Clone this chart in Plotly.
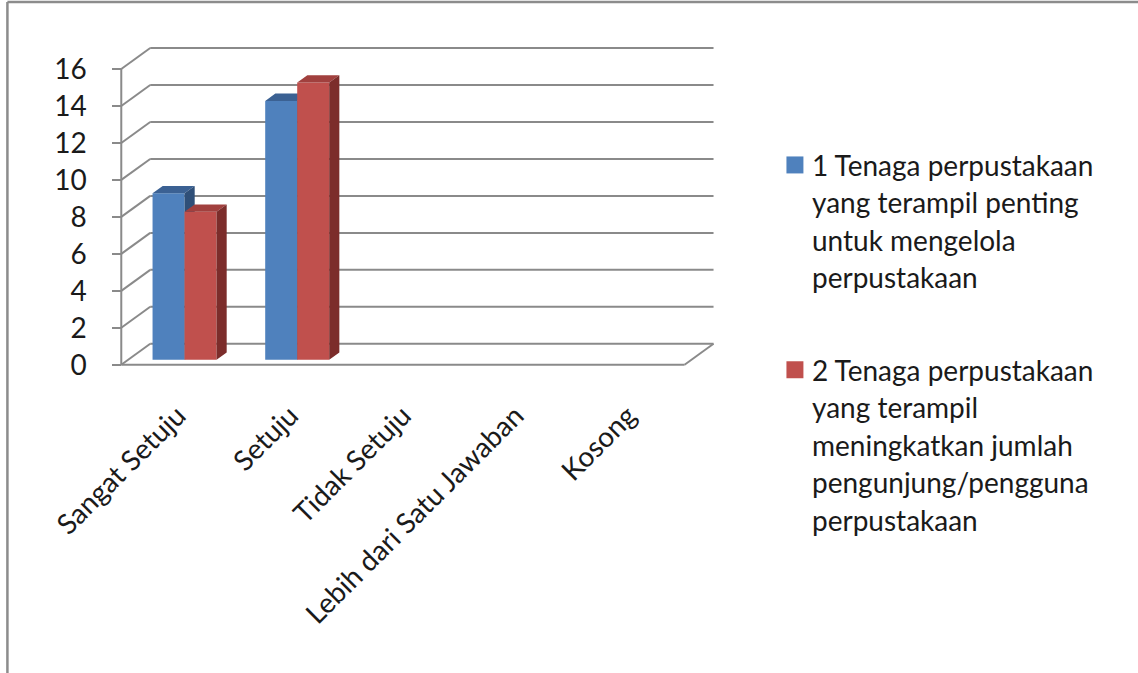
import plotly.graph_objects as go

# ---- data -------------------------------------------------------------
categories = ["Sangat Setuju", "Setuju", "Tidak Setuju",
              "Lebih dari Satu Jawaban", "Kosong"]
series_1 = [9, 14, 0, 0, 0]
series_2 = [8, 15, 0, 0, 0]
series_1_label = ["1 Tenaga perpustakaan", "yang terampil penting",
                  "untuk mengelola", "perpustakaan"]
series_2_label = ["2 Tenaga perpustakaan", "yang terampil",
                  "meningkatkan jumlah", "pengunjung/pengguna",
                  "perpustakaan"]
y_ticks = [0, 2, 4, 6, 8, 10, 12, 14, 16]

# ---- page / scale setup ------------------------------------------------
W, H = 1138, 673
X0_PX, Y0_PX = 121, 365          # pixel position of the data origin
SX, SY = 112.8, 18.5             # pixels per category / per value unit
XMIN, XMAX = -0.1, 5.35
YMIN, YMAX = -0.5, 17.3

left = X0_PX + XMIN * SX
right = X0_PX + XMAX * SX
bottom = Y0_PX - YMIN * SY
top = Y0_PX - YMAX * SY
PW, PH = right - left, bottom - top


def px_x(px):
    return (px - left) / PW


def px_y(py):
    return (bottom - py) / PH


# oblique depth of the 3-D box (data units)
DX, DY = 29 / SX, 21 / SY
BAR_W = 0.284          # width of one column (category units)
F0 = 0.24              # depth fraction where column fronts sit
FD = 0.35              # column depth as fraction of the box depth

GRID = "#8a8a8a"
FONT = "Lato"
FSIZE = 28
TXT = "#1a1a1a"

n = len(categories)
fig = go.Figure()

# ---- walls, floor and gridlines ----------------------------------------
gx, gy = [], []
for t in y_ticks:
    gx += [DX, n + DX, None, 0, DX, None]
    gy += [t + DY, t + DY, None, t, t + DY, None]
gx += [0, 0, None, 0, n, None, n, n + DX, None]
gy += [0, max(y_ticks), None, 0, 0, None, 0, DY, None]
fig.add_trace(go.Scatter(x=gx, y=gy, mode="lines",
                         line=dict(color=GRID, width=2),
                         hoverinfo="skip", showlegend=False))

# ---- 3-D columns ------------------------------------------------------
series = [
    (series_1, ("#4f81bd", "#3b6193", "#2f4f78")),
    (series_2, ("#c0504d", "#a1403e", "#7c2d2b")),
]
bx0, by0 = F0 * DX, F0 * DY
ddx, ddy = FD * DX, FD * DY
for s, (vals, (c_front, c_top, c_side)) in enumerate(series):
    fx, fy, tx, ty, sx_, sy_ = [], [], [], [], [], []
    for i, v in enumerate(vals):
        if v <= 0:
            continue
        xl = i + 0.5 - BAR_W + s * BAR_W + bx0
        xr = xl + BAR_W
        b = by0
        fx += [xl, xr, xr, xl, xl, None]
        fy += [b, b, v + b, v + b, b, None]
        tx += [xl, xr, xr + ddx, xl + ddx, xl, None]
        ty += [v + b, v + b, v + b + ddy, v + b + ddy, v + b, None]
        sx_ += [xr, xr + ddx, xr + ddx, xr, xr, None]
        sy_ += [b, b + ddy, v + b + ddy, v + b, b, None]
    for xs, ys, col in ((fx, fy, c_front), (tx, ty, c_top), (sx_, sy_, c_side)):
        fig.add_trace(go.Scatter(x=xs, y=ys, mode="lines", fill="toself",
                                 fillcolor=col, line=dict(width=0, color=col),
                                 hoverinfo="skip", showlegend=False))

# ---- axes ---------------------------------------------------------------
x_pos = (0 - YMIN) / (YMAX - YMIN)
y_pos = (0 - XMIN) / (XMAX - XMIN)

fig.update_layout(
    width=W, height=H,
    margin=dict(l=left, r=W - right, t=top, b=H - bottom, pad=0),
    paper_bgcolor="white", plot_bgcolor="white",
    showlegend=False,
    xaxis=dict(range=[XMIN, XMAX], tickvals=[i + 0.5 for i in range(n)],
               ticktext=categories, tickangle=-45, ticks="",
               showgrid=False, zeroline=False, showline=False,
               anchor="free", position=x_pos, automargin=False,
               tickfont=dict(family=FONT, size=FSIZE, color=TXT),
               ticklabelstandoff=28),
    xaxis2=dict(range=[XMIN, XMAX], overlaying="x", tickvals=list(range(n + 1)),
                ticks="outside", ticklen=10, tickwidth=2, tickcolor=GRID,
                showticklabels=False, showgrid=False, zeroline=False,
                showline=False, anchor="free", position=x_pos,
                automargin=False, side="bottom"),
    yaxis=dict(range=[YMIN, YMAX], tickvals=y_ticks,
               ticks="outside", ticklen=9, tickwidth=2, tickcolor=GRID,
               showgrid=False, zeroline=False, showline=False,
               anchor="free", position=y_pos, automargin=False,
               tickfont=dict(family=FONT, size=FSIZE, color=TXT),
               ticklabelstandoff=20),
)

# ---- chart frame --------------------------------------------------------
fig.add_shape(type="line", xref="paper", yref="paper",
              x0=px_x(7), x1=px_x(W + 2), y0=px_y(2), y1=px_y(2),
              line=dict(color="#8c8c8c", width=2.5))
fig.add_shape(type="line", xref="paper", yref="paper",
              x0=px_x(7), x1=px_x(7), y0=px_y(2), y1=px_y(H + 2),
              line=dict(color="#8c8c8c", width=2.5))

# ---- legend -------------------------------------------------------------
LINE_H = 37.5
legend_items = [
    (series_1_label, "#4f81bd", 165),
    (series_2_label, "#c0504d", 370),
]
for lines, col, y_first in legend_items:
    fig.add_shape(type="rect", xref="paper", yref="paper",
                  x0=px_x(787), x1=px_x(804),
                  y0=px_y(y_first - 8.5), y1=px_y(y_first + 8.5),
                  fillcolor=col, line=dict(width=0))
    for k, txt in enumerate(lines):
        fig.add_annotation(xref="paper", yref="paper",
                           x=px_x(811), y=px_y(y_first + k * LINE_H),
                           xanchor="left", yanchor="middle",
                           text=txt, showarrow=False,
                           font=dict(family=FONT, size=FSIZE, color=TXT))

fig.write_html("out.html")
